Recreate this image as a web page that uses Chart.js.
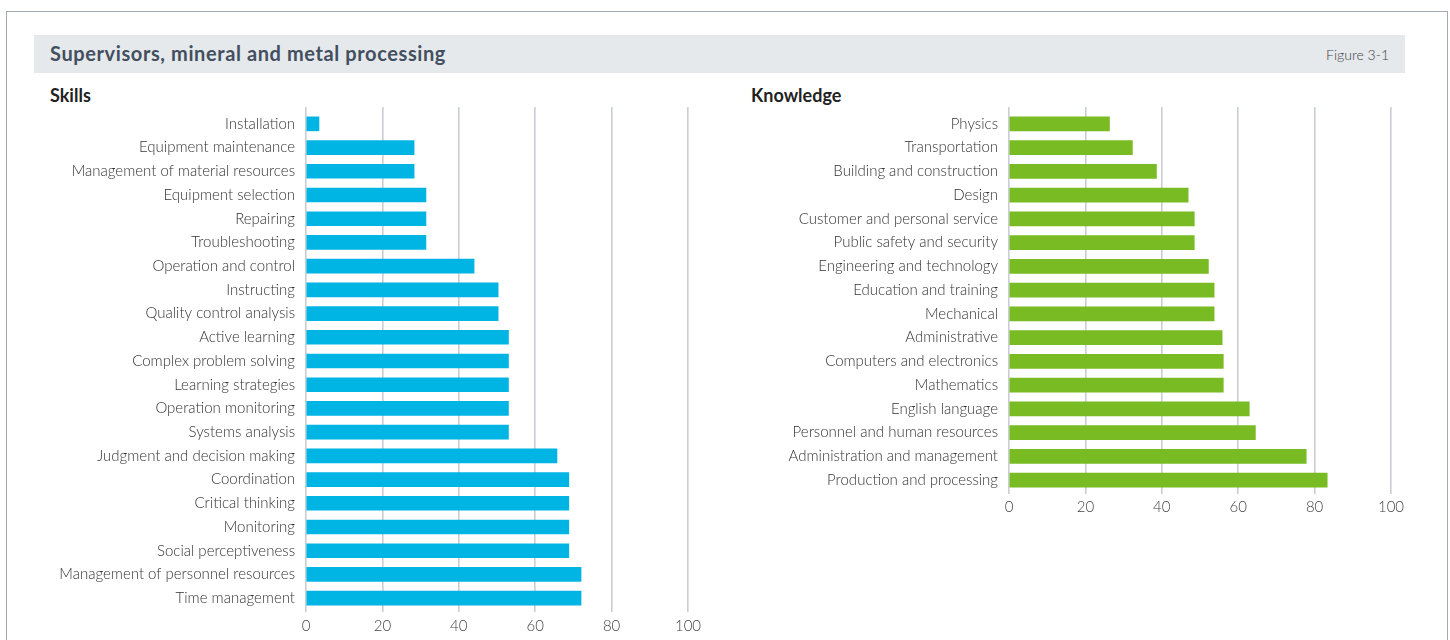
<!DOCTYPE html>
<html>
<head>
<meta charset="utf-8">
<script src="https://cdn.jsdelivr.net/npm/chart.js@4.4.0/dist/chart.umd.min.js"></script>
<style>
  body { margin: 0; background: #fff; font-family: Lato, sans-serif; }
  #page { position: relative; width: 1450px; height: 640px; overflow: hidden; }
  #frame { position: absolute; left: 6px; top: 11px; width: 1440px; height: 700px;
    border-left: 1.5px solid #a3a9b0; border-top: 1.5px solid #a3a9b0; border-right: 1.5px solid #a3a9b0; }
  #header { position: absolute; left: 34px; top: 35px; width: 1371px; height: 38px; background: #e5e9ec; }
  #title { position: absolute; left: 16px; top: 6px; font-size: 20px; font-weight: 700; letter-spacing: 0.6px; color: #434e5e; }
  #fig { position: absolute; right: 16px; top: 11px; font-size: 14px; font-weight: 300; color: #444; }
  .sub { position: absolute; top: 84px; font-size: 18px; font-weight: 700; color: #222; }
  .box { position: absolute; }
</style>
</head>
<body>
<div id="page">
  <div id="frame"></div>
  <div id="header">
    <div id="title">Supervisors, mineral and metal processing</div>
    <div id="fig">Figure 3-1</div>
  </div>
  <div class="sub" style="left:50px">Skills</div>
  <div class="sub" style="left:751px">Knowledge</div>
  <div class="box" style="left:40px; top:100px; width:680px; height:540px"><canvas id="skills"></canvas></div>
  <div class="box" style="left:740px; top:100px; width:680px; height:420px"><canvas id="knowledge"></canvas></div>
</div>
<script>
const skillLabels = ["Installation", "Equipment maintenance", "Management of material resources",
  "Equipment selection", "Repairing", "Troubleshooting", "Operation and control", "Instructing",
  "Quality control analysis", "Active learning", "Complex problem solving", "Learning strategies",
  "Operation monitoring", "Systems analysis", "Judgment and decision making", "Coordination",
  "Critical thinking", "Monitoring", "Social perceptiveness", "Management of personnel resources",
  "Time management"]
const skillValues = [3.4, 28.3, 28.3, 31.4, 31.4, 31.4, 44, 50.3, 50.3, 53, 53, 53, 53, 53,
  65.7, 68.8, 68.8, 68.8, 68.8, 72, 72]

const knowledgeLabels = ["Physics", "Transportation", "Building and construction", "Design",
  "Customer and personal service", "Public safety and security", "Engineering and technology",
  "Education and training", "Mechanical", "Administrative", "Computers and electronics",
  "Mathematics", "English language", "Personnel and human resources",
  "Administration and management", "Production and processing"]
const knowledgeValues = [26.3, 32.3, 38.6, 46.9, 48.5, 48.5, 52.2, 53.7, 53.7, 55.8, 56.1,
  56.1, 62.9, 64.5, 77.8, 83.3]

const xTicks = [0, 20, 40, 60, 80, 100]

const gridColor = '#c9cdd4'

// Build one horizontal bar chart
function makeChart(id, labels, values, color, yWidth, xHeight, tickPad, padRight) {
  return new Chart(id, {
    type: 'bar',
    data: {
      labels: labels,
      datasets: [{
        data: values,
        backgroundColor: color,
        barThickness: 14
      }]
    },
    options: {
      indexAxis: 'y',
      responsive: true,
      maintainAspectRatio: false,
      animation: false,
      layout: { padding: { top: 0, right: padRight, bottom: 0, left: 0 } },
      plugins: { legend: { display: false }, tooltip: { enabled: false } },
      scales: {
        x: {
          min: 0, max: 100,
          afterBuildTicks: s => { s.ticks = xTicks.map(v => ({ value: v })) },
          afterFit: s => { s.height = xHeight },
          border: { display: false },
          grid: { color: gridColor, lineWidth: 1.6, drawTicks: true, tickLength: 2 },
          ticks: { color: '#444', font: { family: 'Lato', size: 15, weight: 300 }, padding: tickPad }
        },
        x2: {
          position: 'top', min: 0, max: 100,
          afterBuildTicks: s => { s.ticks = xTicks.map(v => ({ value: v })) },
          afterFit: s => { s.height = 5 },
          border: { display: false },
          grid: { color: gridColor, lineWidth: 1.6, drawOnChartArea: false, drawTicks: true, tickLength: 5 },
          ticks: { display: false }
        },
        y: {
          afterFit: s => { s.width = yWidth },
          border: { display: false },
          grid: { display: false },
          ticks: { color: '#333', font: { family: 'Lato', size: 15, weight: 300 }, padding: 3, autoSkip: false }
        }
      }
    }
  })
}

makeChart('skills', skillLabels, skillValues, '#00b4e3', 266, 30, 5, 32)
makeChart('knowledge', knowledgeLabels, knowledgeValues, '#78bb22', 269, 28, 4, 29)
</script>
</body>
</html>
